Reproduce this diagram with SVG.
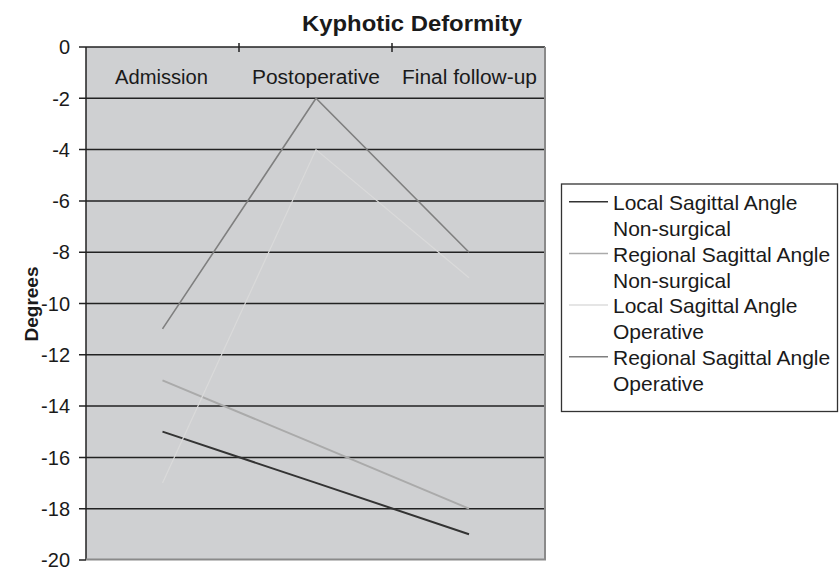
<svg xmlns="http://www.w3.org/2000/svg" width="839" height="570" viewBox="0 0 839 570">
<style>
text{font-family:"Liberation Sans",Arial,sans-serif;fill:#1a1a1a}
.tick{font-size:20px;text-anchor:end}
.cat{font-size:20px}
.leg{font-size:21px}
.grid{stroke:#222;stroke-width:1.5}
.s{fill:none;stroke-linejoin:miter}
</style>
<rect width="839" height="570" fill="#fff"/>
<text x="302" y="31" font-size="22" font-weight="bold" textLength="220" lengthAdjust="spacingAndGlyphs">Kyphotic Deformity</text>
<g id="plot">
<rect x="86" y="47" width="459" height="512.5" fill="#cfd0d2"/>
<g class="grid">
<line x1="79" y1="47" x2="545" y2="47"/>
<line x1="79" y1="98.3" x2="545" y2="98.3"/>
<line x1="79" y1="149.6" x2="545" y2="149.6"/>
<line x1="79" y1="200.9" x2="545" y2="200.9"/>
<line x1="79" y1="252.2" x2="545" y2="252.2"/>
<line x1="79" y1="303.5" x2="545" y2="303.5"/>
<line x1="79" y1="354.8" x2="545" y2="354.8"/>
<line x1="79" y1="406.1" x2="545" y2="406.1"/>
<line x1="79" y1="457.4" x2="545" y2="457.4"/>
<line x1="79" y1="508.7" x2="545" y2="508.7"/>
<line x1="79" y1="560" x2="86" y2="560"/>
<line x1="86" y1="47" x2="86" y2="560"/>
<line x1="239" y1="43" x2="239" y2="52"/>
<line x1="392" y1="43" x2="392" y2="52"/>
</g>
<polyline points="86,559.5 545,559.5 545,47" fill="none" stroke="#8a8a8a" stroke-width="2"/>
</g>
<g id="axis-labels">
<text class="tick" x="70" y="54">0</text>
<text class="tick" x="70" y="105.5">-2</text>
<text class="tick" x="70" y="156.8">-4</text>
<text class="tick" x="70" y="208.1">-6</text>
<text class="tick" x="70" y="259.4">-8</text>
<text class="tick" x="70" y="310.7">-10</text>
<text class="tick" x="70" y="362">-12</text>
<text class="tick" x="70" y="413.3">-14</text>
<text class="tick" x="70" y="464.6">-16</text>
<text class="tick" x="70" y="515.9">-18</text>
<text class="tick" x="70" y="567.2">-20</text>
<text class="cat" x="115" y="84" textLength="93" lengthAdjust="spacingAndGlyphs">Admission</text>
<text class="cat" x="252" y="84" textLength="128" lengthAdjust="spacingAndGlyphs">Postoperative</text>
<text class="cat" x="402" y="84" textLength="135" lengthAdjust="spacingAndGlyphs">Final follow-up</text>
<text x="38" y="304" font-size="19" font-weight="bold" text-anchor="middle" transform="rotate(-90 38 304)">Degrees</text>
</g>
<g id="connectors">
<polyline class="s" points="162.5,431.6 316,482.9 469,534.2" stroke="#333" stroke-width="2"/>
<polyline class="s" points="162.5,380.3 316,444.4 469,508.7" stroke="#aaa" stroke-width="2"/>
<polyline class="s" points="162.5,328.9 316,98.3 469,252.2" stroke="#7f7f7f" stroke-width="1.6"/>
<polyline class="s" points="162.5,482.9 316,149.6 469,277.8" stroke="#dadada" stroke-width="1.2"/>
</g>
<g id="legend">
<rect x="561.5" y="184" width="276" height="227.5" fill="#fff" stroke="#333" stroke-width="1.3"/>
<line x1="569" y1="201.7" x2="608" y2="201.7" stroke="#333" stroke-width="1.5"/>
<text class="leg" x="613" y="210">Local Sagittal Angle</text>
<text class="leg" x="613" y="236">Non-surgical</text>
<line x1="569" y1="253.5" x2="608" y2="253.5" stroke="#aaa" stroke-width="1.5"/>
<text class="leg" x="613" y="262">Regional Sagittal Angle</text>
<text class="leg" x="613" y="288">Non-surgical</text>
<line x1="569" y1="305" x2="608" y2="305" stroke="#ddd" stroke-width="1.5"/>
<text class="leg" x="613" y="313">Local Sagittal Angle</text>
<text class="leg" x="613" y="339">Operative</text>
<line x1="569" y1="356.7" x2="608" y2="356.7" stroke="#7f7f7f" stroke-width="1.5"/>
<text class="leg" x="613" y="365">Regional Sagittal Angle</text>
<text class="leg" x="613" y="391">Operative</text>
</g>
</svg>
